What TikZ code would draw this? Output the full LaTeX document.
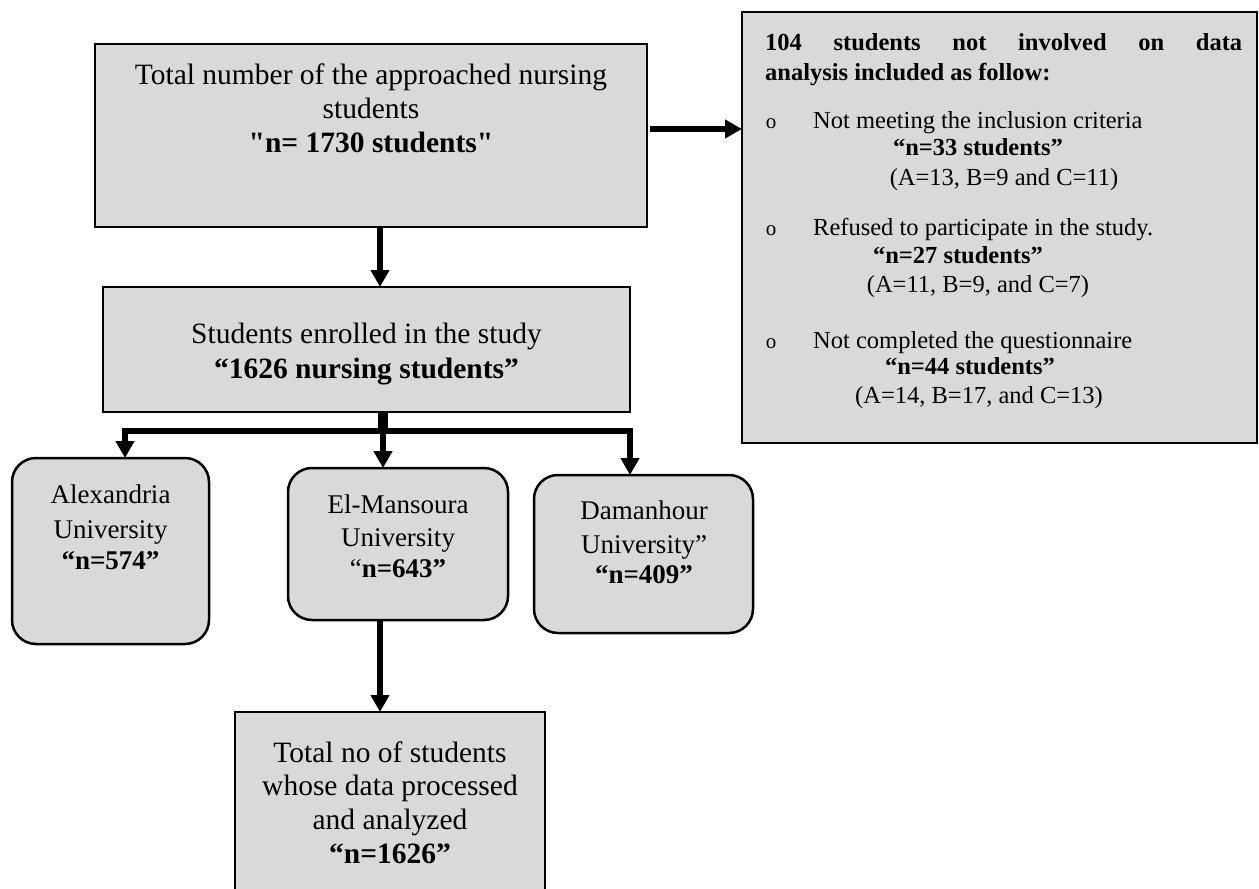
\documentclass[tikz,border=0pt]{standalone}
\usepackage{fontspec}
\setmainfont{Liberation Serif}[Ligatures=TeXOff]
\usetikzlibrary{arrows.meta,calc}
\definecolor{boxgray}{HTML}{D9D9D9}
\begin{document}
\begin{tikzpicture}[x=1pt,y=-1pt,
  box/.style={draw=black, line width=2.5pt, fill=boxgray, inner sep=0pt, outer sep=0pt},
  ubox/.style={box, rounded corners=24pt},
  arr/.style={line width=6pt, line join=miter, -{Triangle[width=18pt,length=17pt]}},
  tbig/.style={font=\fontsize{29.5}{34}\selectfont, inner sep=0pt, anchor=base},
  tuni/.style={font=\fontsize{27}{32}\selectfont, inner sep=0pt, anchor=base},
  tsm/.style={font=\fontsize{24.5}{29}\selectfont, inner sep=0pt, anchor=base},
  tsmw/.style={tsm, anchor=base west},
  bul/.style={font=\fontsize{21}{24}\selectfont, inner sep=0pt, anchor=base}]
\useasboundingbox (0,0) rectangle (1259,889);
\clip (0,0) rectangle (1259,889);
\fill[white] (0,0) rectangle (1259,889);

% boxes
\node[box, minimum width=552pt, minimum height=183pt] (top) at (371,135.5) {};
\node[box, minimum width=515pt, minimum height=431pt] (right) at (999.5,227.5) {};
\node[box, minimum width=527pt, minimum height=125pt] (mid) at (366.5,349.5) {};
\node[ubox, minimum width=197pt, minimum height=186pt] (alex) at (110.5,551) {};
\node[ubox, minimum width=220pt, minimum height=152pt] (mans) at (398,544) {};
\node[ubox, minimum width=219pt, minimum height=158pt] (dam) at (643.5,554) {};
\node[box, minimum width=310pt, minimum height=200pt] (final) at (390,812) {};

% top box text
\node[tbig] (t1) at (371,84) {Total number of the approached nursing};
\node[tbig] (t2) at (371,118) {students};
\node[tbig] (t3) at (371,152) {\textbf{"n= 1730 students"}};

% middle box text
\node[tbig] (m1) at (366.5,343) {Students enrolled in the study};
\node[tbig] (m2) at (366.5,378) {\textbf{“1626 nursing students”}};

% right box text
\node[tsmw] (r1) at (765,50) {\textbf{\makebox[477pt][s]{104 students not involved on data}}};
\node[tsmw] (r2) at (765,80) {\textbf{analysis included as follow:}};
\node[bul] (b1) at (771,128) {o};
\node[tsmw] (r3) at (813,128) {Not meeting the inclusion criteria};
\node[tsm] (r4) at (978,155) {\textbf{“n=33 students”}};
\node[tsm] (r5) at (1004,185) {(A=13, B=9 and C=11)};
\node[bul] (b2) at (771,235) {o};
\node[tsmw] (r6) at (813,235) {Refused to participate in the study.};
\node[tsm] (r7) at (958,263) {\textbf{“n=27 students”}};
\node[tsm] (r8) at (978,292) {(A=11, B=9, and C=7)};
\node[bul] (b3) at (771,348) {o};
\node[tsmw] (r9) at (813,348) {Not completed the questionnaire};
\node[tsm] (r10) at (970,374) {\textbf{“n=44 students”}};
\node[tsm] (r11) at (979,403) {(A=14, B=17, and C=13)};

% universities
\node[tuni] (a1) at (110.5,503) {Alexandria};
\node[tuni] (a2) at (110.5,538) {University};
\node[tuni] (a3) at (110.5,569) {\textbf{“n=574”}};
\node[tuni] (e1) at (398,513) {El-Mansoura};
\node[tuni] (e2) at (398,546) {University};
\node[tuni] (e3) at (398,577) {“\textbf{n=643”}};
\node[tuni] (d1) at (644,519) {Damanhour};
\node[tuni] (d2) at (644,553) {University”};
\node[tuni] (d3) at (644,583) {\textbf{“n=409”}};

% final box text
\node[tbig] (f1) at (390,762) {Total no of students};
\node[tbig] (f2) at (390,795) {whose data processed};
\node[tbig] (f3) at (390,829) {and analyzed};
\node[tbig] (f4) at (390,863) {\textbf{“n=1626”}};

% connectors
\coordinate (c1) at ([xshift=3pt,yshift=6.5pt]top.east);
\draw[arr] (c1) -- (c1 -| right.west);
\coordinate (xa) at (380,0);
\draw[arr] (top.south -| xa) -- (mid.north -| xa);
\coordinate (split) at (383,431);
\coordinate (bl) at (125,431);
\coordinate (br) at (630,431);
\draw[line width=10pt] (mid.south -| split) -- (split);
\draw[arr] (split) -- (bl) -- (bl |- alex.north);
\draw[arr] (split) -- (br) -- (br |- dam.north);
\draw[arr] (split) -- (split |- mans.north);
\draw[arr] (mans.south -| xa) -- (final.north -| xa);
\end{tikzpicture}
\end{document}
